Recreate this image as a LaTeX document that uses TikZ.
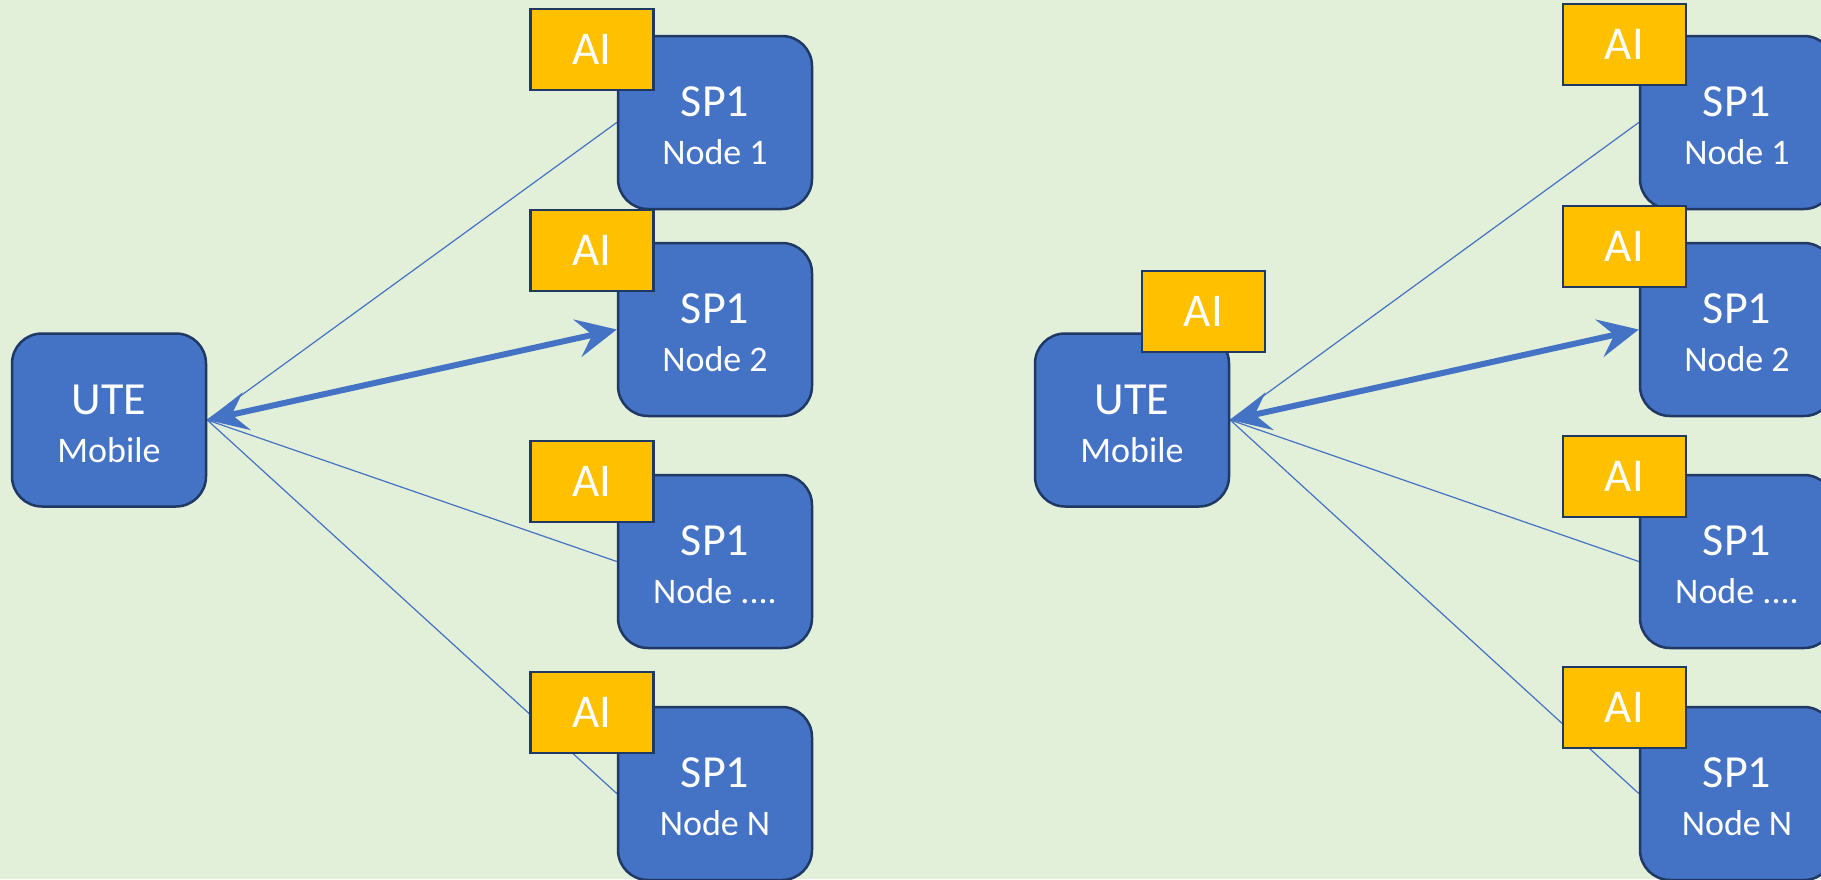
\documentclass[tikz,border=0pt]{standalone}
\usepackage{fontspec}
\setmainfont{Carlito}
\usetikzlibrary{arrows.meta}
\definecolor{bgGreen}{HTML}{E2F0D9}
\definecolor{boxBlue}{HTML}{4472C4}
\definecolor{edgeNavy}{HTML}{1F3864}
\definecolor{aiGold}{HTML}{FFC000}
\pgfdeclarelayer{back}
\pgfsetlayers{back,main}
\tikzset{
  device/.style={draw=edgeNavy, line width=2.5pt, fill=boxBlue, rounded corners=30pt,
    minimum width=194pt, minimum height=173pt, inner sep=0pt},
  aibox/.style={draw=edgeNavy, line width=2.5pt, fill=aiGold, minimum width=123pt,
    minimum height=81pt, inner sep=0pt, text=white, font=\fontsize{47}{47}\selectfont},
  bigtext/.style={text=white, inner sep=0pt, anchor=base, font=\fontsize{46}{46}\selectfont},
  smalltext/.style={text=white, inner sep=0pt, anchor=base, font=\fontsize{36}{36}\selectfont},
  link/.style={draw=boxBlue, line width=1.2pt},
  mainlink/.style={draw=boxBlue, line width=6pt,
    {Stealth[length=40pt,width=38pt,inset=15pt]}-{Stealth[length=40pt,width=38pt,inset=15pt]}},
}
\begin{document}
\begin{tikzpicture}[x=1pt,y=-1pt]
  \useasboundingbox (0,0) rectangle (1821,879);
  \clip (0,0) rectangle (1821,879);
  \begin{pgfonlayer}{back}
    \fill[bgGreen] (0,0) rectangle (1821,879);
  \end{pgfonlayer}

  % ---------- left panel: mobile without its own AI ----------
  \node[device] (uteA) at (109,420) {};
  \node[bigtext] (uteAt) at (109,414) {UTE};
  \node[smalltext] (uteAm) at (109,462) {Mobile};

  \foreach \i/\ty/\ay/\lab in {1/36/9/{Node 1}, 2/243/210/{Node 2}, 3/475/441/{Node ....}, 4/707/672/{Node N}} {
    \node[device] (spA\i) at (715,\ty+86.5) {};
    \node[bigtext] (spA\i t) at (715,\ty+80.7) {SP1};
    \node[smalltext] (spA\i n) at (715,\ty+128) {\lab};
    \node[aibox] (aiA\i) at (592,\ay+40.5) {AI};
  }

  \begin{pgfonlayer}{back}
    \draw[link] (uteA.east) -- (spA1.west);
    \draw[link] (uteA.east) -- (spA3.west);
    \draw[link] (uteA.east) -- (spA4.west);
  \end{pgfonlayer}
  \draw[mainlink] (uteA.east) -- (spA2.west);

  % ---------- right panel: mobile with its own AI ----------
  \node[device] (uteB) at (1132,420) {};
  \node[bigtext] (uteBt) at (1132,414) {UTE};
  \node[smalltext] (uteBm) at (1132,462) {Mobile};
  \node[aibox] (aiU) at (1203.5,311.5) {AI};

  \foreach \i/\ty/\ay/\lab in {1/36/4/{Node 1}, 2/243/206/{Node 2}, 3/475/436/{Node ....}, 4/707/667/{Node N}} {
    \node[device] (spB\i) at (1737,\ty+86.5) {};
    \node[bigtext] (spB\i t) at (1737,\ty+80.7) {SP1};
    \node[smalltext] (spB\i n) at (1737,\ty+128) {\lab};
    \node[aibox] (aiB\i) at (1624.5,\ay+40.5) {AI};
  }

  \begin{pgfonlayer}{back}
    \draw[link] (uteB.east) -- (spB1.west);
    \draw[link] (uteB.east) -- (spB3.west);
    \draw[link] (uteB.east) -- (spB4.west);
  \end{pgfonlayer}
  \draw[mainlink] (uteB.east) -- (spB2.west);
\end{tikzpicture}
\end{document}
